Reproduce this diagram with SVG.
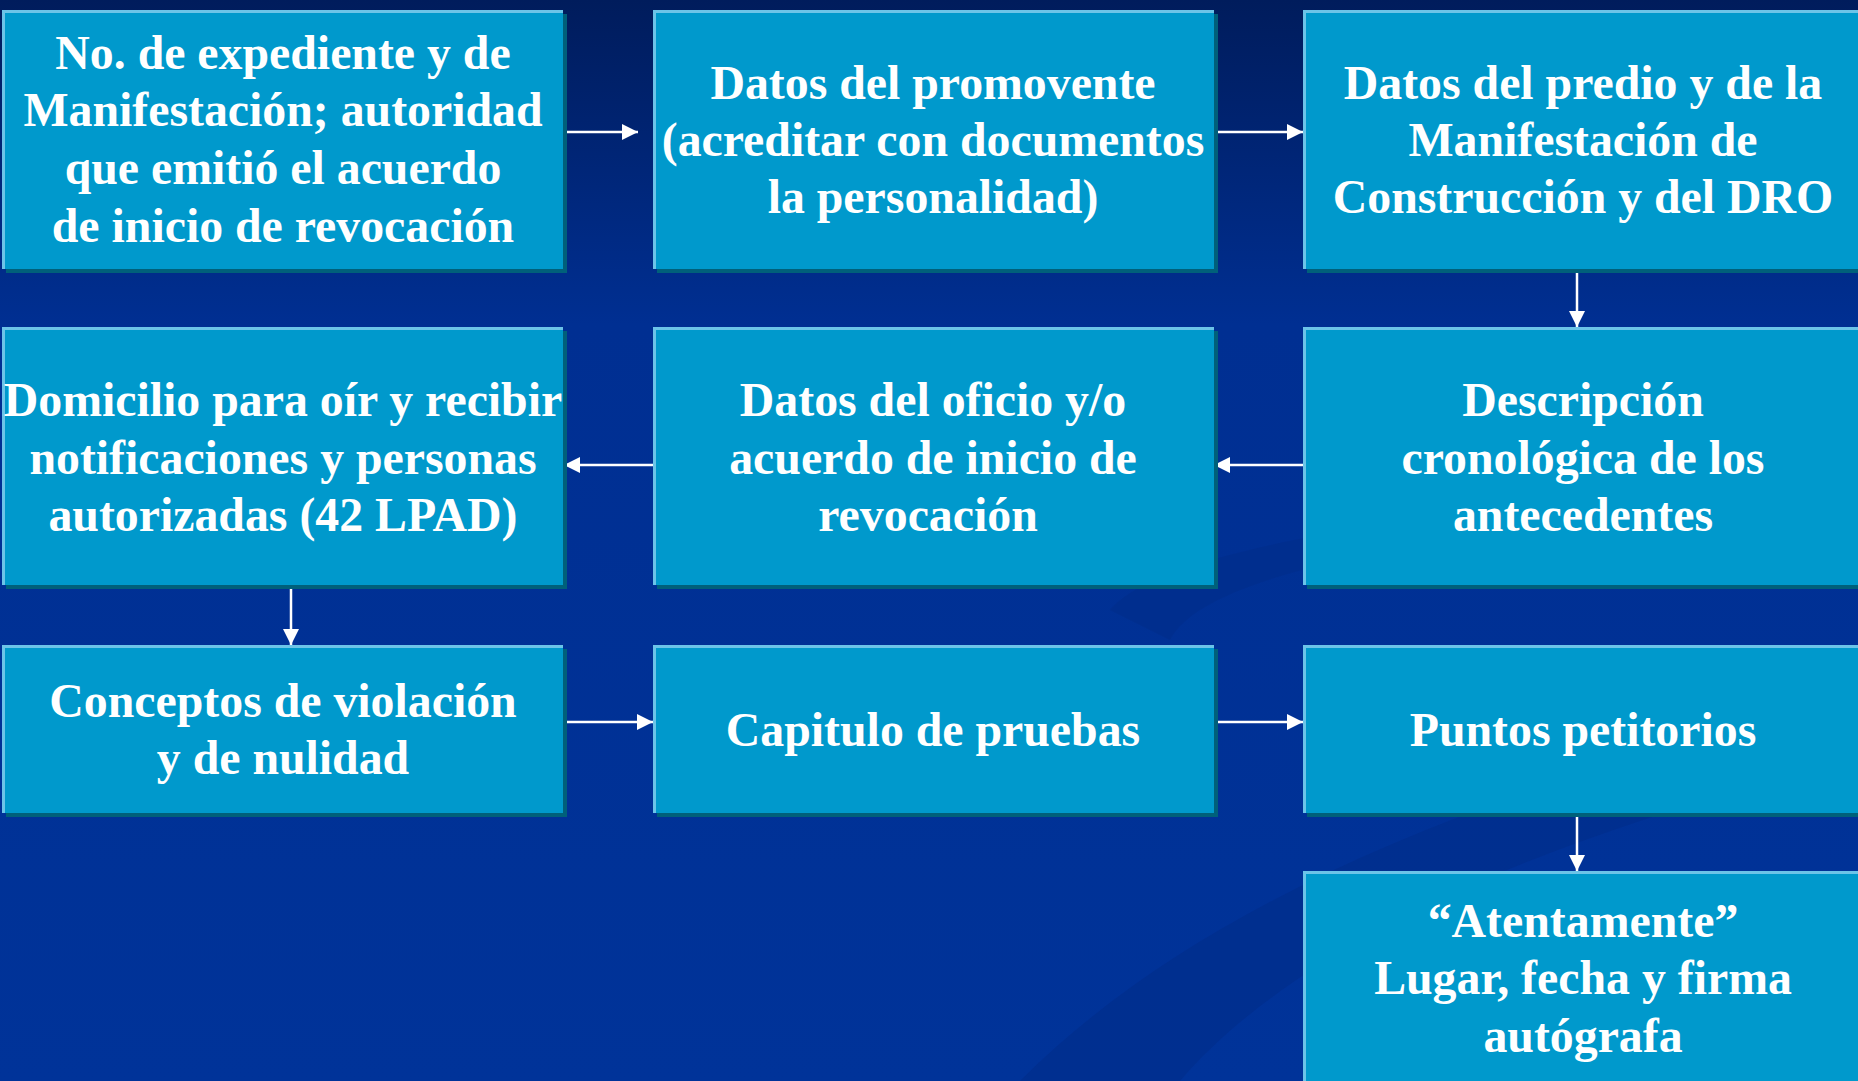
<svg xmlns="http://www.w3.org/2000/svg" width="1858" height="1081" viewBox="0 0 1858 1081">
<defs>
<linearGradient id="bg" x1="0" y1="0" x2="0" y2="1">
<stop offset="0" stop-color="#001c5c"/>
<stop offset="0.3" stop-color="#002f92"/>
<stop offset="1" stop-color="#003399"/>
</linearGradient>
<marker id="ah" markerUnits="userSpaceOnUse" markerWidth="16" markerHeight="16" refX="16" refY="8" orient="auto">
<path d="M0,0 L16,8 L0,16 z" fill="#ffffff"/>
</marker>
<style>
.sh{fill:#00607a}
.bx{fill:#0099cc}
.hl{stroke:#6cc4e8;stroke-width:3;fill:none}
.t{font-family:"Liberation Serif","Times New Roman",serif;font-weight:bold;font-size:47.8px;fill:#ffffff;text-anchor:middle}
.c{stroke:#ffffff;stroke-width:2.5;fill:none;marker-end:url(#ah)}
.sw{fill:#002e8c;opacity:0.7}
</style>
</defs>
<rect x="0" y="0" width="1858" height="1081" fill="url(#bg)"/>
<g id="background-swooshes">
<path class="sw" d="M1020,1081 C1200,900 1500,780 1858,700 L1858,760 C1560,830 1300,940 1180,1081 Z"/>
<path class="sw" d="M1110,610 C1150,560 1350,520 1600,500 L1600,520 C1380,545 1200,580 1170,640 Z"/>
<path class="sw" d="M1640,1081 C1720,1000 1790,960 1858,930 L1858,1000 C1810,1030 1760,1060 1740,1081 Z"/>
</g>
<g id="connectors">
<line class="c" x1="564" y1="132" x2="638" y2="132"/>
<line class="c" x1="1214" y1="132" x2="1303" y2="132"/>
<line class="c" x1="1577" y1="269" x2="1577" y2="327"/>
<line class="c" x1="1303" y1="465" x2="1214" y2="465"/>
<line class="c" x1="653" y1="465" x2="564" y2="465"/>
<line class="c" x1="291" y1="585" x2="291" y2="645"/>
<line class="c" x1="564" y1="722" x2="653" y2="722"/>
<line class="c" x1="1214" y1="722" x2="1303" y2="722"/>
<line class="c" x1="1577" y1="813" x2="1577" y2="871"/>
</g>
<g id="n1">
<rect class="sh" x="6" y="14" width="561" height="259"/>
<rect class="bx" x="2" y="10" width="561" height="259"/>
<path class="hl" d="M3.5,269 V11.5 H563"/>
<text class="t" x="283" y="69">No. de expediente y de</text>
<text class="t" x="283" y="126">Manifestación; autoridad</text>
<text class="t" x="283" y="184">que emitió el acuerdo</text>
<text class="t" x="283" y="242">de inicio de revocación</text>
</g>
<g id="n2">
<rect class="sh" x="657" y="14" width="561" height="259"/>
<rect class="bx" x="653" y="10" width="561" height="259"/>
<path class="hl" d="M654.5,269 V11.5 H1214"/>
<text class="t" x="933" y="99">Datos del promovente</text>
<text class="t" x="933" y="156">(acreditar con documentos</text>
<text class="t" x="933" y="213">la personalidad)</text>
</g>
<g id="n3">
<rect class="sh" x="1307" y="14" width="561" height="259"/>
<rect class="bx" x="1303" y="10" width="561" height="259"/>
<path class="hl" d="M1304.5,269 V11.5 H1864"/>
<text class="t" x="1583" y="99">Datos del predio y de la</text>
<text class="t" x="1583" y="156">Manifestación de</text>
<text class="t" x="1583" y="213">Construcción y del DRO</text>
</g>
<g id="n4">
<rect class="sh" x="6" y="331" width="561" height="258"/>
<rect class="bx" x="2" y="327" width="561" height="258"/>
<path class="hl" d="M3.5,585 V328.5 H563"/>
<text class="t" x="283" y="416">Domicilio para oír y recibir</text>
<text class="t" x="283" y="474">notificaciones y personas</text>
<text class="t" x="283" y="531">autorizadas (42 LPAD)</text>
</g>
<g id="n5">
<rect class="sh" x="657" y="331" width="561" height="258"/>
<rect class="bx" x="653" y="327" width="561" height="258"/>
<path class="hl" d="M654.5,585 V328.5 H1214"/>
<text class="t" x="933" y="416">Datos del oficio y/o</text>
<text class="t" x="933" y="474">acuerdo de inicio de</text>
<text class="t" x="928" y="531">revocación</text>
</g>
<g id="n6">
<rect class="sh" x="1307" y="331" width="561" height="258"/>
<rect class="bx" x="1303" y="327" width="561" height="258"/>
<path class="hl" d="M1304.5,585 V328.5 H1864"/>
<text class="t" x="1583" y="416">Descripción</text>
<text class="t" x="1583" y="474">cronológica de los</text>
<text class="t" x="1583" y="531">antecedentes</text>
</g>
<g id="n7">
<rect class="sh" x="6" y="649" width="561" height="168"/>
<rect class="bx" x="2" y="645" width="561" height="168"/>
<path class="hl" d="M3.5,813 V646.5 H563"/>
<text class="t" x="283" y="717">Conceptos de violación</text>
<text class="t" x="283" y="774">y de nulidad</text>
</g>
<g id="n8">
<rect class="sh" x="657" y="649" width="561" height="168"/>
<rect class="bx" x="653" y="645" width="561" height="168"/>
<path class="hl" d="M654.5,813 V646.5 H1214"/>
<text class="t" x="933" y="746">Capitulo de pruebas</text>
</g>
<g id="n9">
<rect class="sh" x="1307" y="649" width="561" height="168"/>
<rect class="bx" x="1303" y="645" width="561" height="168"/>
<path class="hl" d="M1304.5,813 V646.5 H1864"/>
<text class="t" x="1583" y="746">Puntos petitorios</text>
</g>
<g id="n10">
<rect class="sh" x="1307" y="875" width="561" height="220"/>
<rect class="bx" x="1303" y="871" width="561" height="220"/>
<path class="hl" d="M1304.5,1090 V872.5 H1864"/>
<text class="t" x="1583" y="937">“Atentamente”</text>
<text class="t" x="1583" y="994">Lugar, fecha y firma</text>
<text class="t" x="1583" y="1052">autógrafa</text>
</g>
</svg>
